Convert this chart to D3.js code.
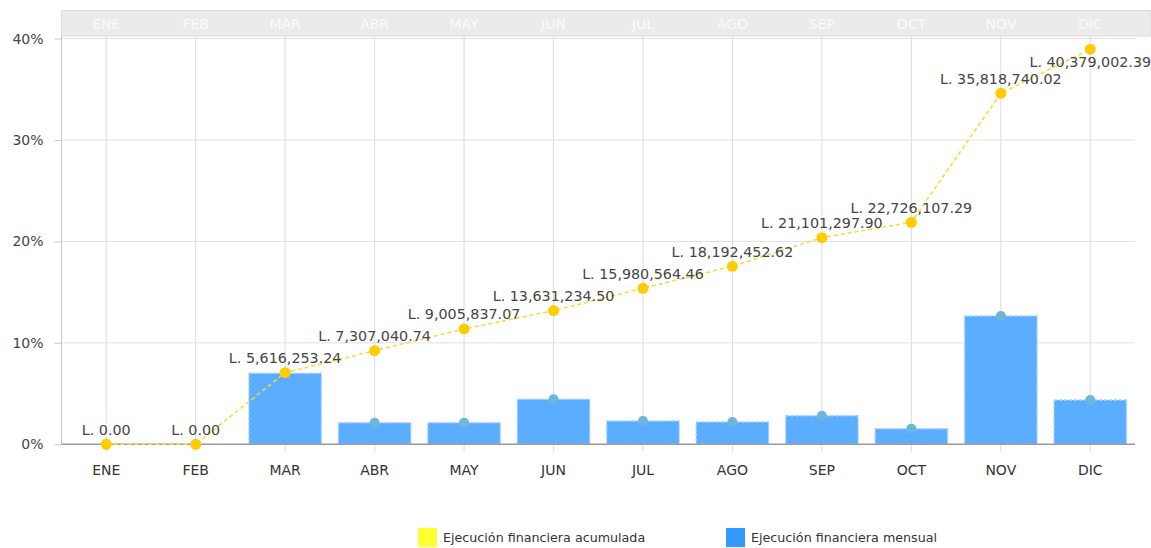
<!DOCTYPE html>
<html>
<head>
<meta charset="utf-8">
<script src="https://cdn.jsdelivr.net/npm/d3@7"></script>
<style>
  body { margin: 0; background: #fff; }
  text { font-family: "DejaVu Sans", Verdana, sans-serif; }
</style>
</head>
<body>
<div id="chart"></div>
<script>
// Month categories and the two series.
const months = ["ENE", "FEB", "MAR", "ABR", "MAY", "JUN", "JUL", "AGO", "SEP", "OCT", "NOV", "DIC"];
const acumulado = [0, 0, 7.06, 9.23, 11.37, 13.18, 15.38, 17.55, 20.37, 21.89, 34.6, 38.95];
const mensual = [0, 0, 7.0, 2.13, 2.13, 4.44, 2.30, 2.20, 2.82, 1.54, 12.65, 4.36];
const montos = ["L. 0.00", "L. 0.00", "L. 5,616,253.24", "L. 7,307,040.74", "L. 9,005,837.07",
    "L. 13,631,234.50", "L. 15,980,564.46", "L. 18,192,452.62", "L. 21,101,297.90",
    "L. 22,726,107.29", "L. 35,818,740.02", "L. 40,379,002.39"];
const yTicks = [0, 10, 20, 30, 40];
const legendItems = ["Ejecución financiera acumulada", "Ejecución financiera mensual"];

const W = 1151, H = 548;
const mLeft = 61.5, mRight = 1135, mTop = 36, mBottom = 444.3;

const svg = d3.select("#chart").append("svg")
    .attr("width", W).attr("height", H);

const x = d3.scaleBand().domain(months).range([mLeft, mRight]).paddingInner(0.19).paddingOuter(0.095);
const xc = d => x(d) + x.bandwidth() / 2;
const y = d3.scaleLinear().domain([0, 40.25]).range([mBottom, mTop]);

// top band with the light month labels
svg.append("rect")
    .attr("x", mLeft).attr("y", 10.5)
    .attr("width", W - mLeft).attr("height", mTop - 10.5)
    .attr("fill", "#ebebeb").attr("stroke", "#dcdcdc");
svg.append("g").selectAll("text")
    .data(months).join("text")
    .attr("x", xc).attr("y", 25)
    .attr("text-anchor", "middle").attr("dominant-baseline", "middle")
    .attr("font-size", 14).attr("fill", "#fafafa")
    .text(d => d);

// grid
svg.append("g").selectAll("line")
    .data(yTicks.filter(d => d > 0)).join("line")
    .attr("x1", mLeft).attr("x2", mRight)
    .attr("y1", d => y(d)).attr("y2", d => y(d))
    .attr("stroke", "#e0e0e0");
svg.append("g").selectAll("line")
    .data(months).join("line")
    .attr("x1", xc).attr("x2", xc)
    .attr("y1", mTop).attr("y2", mBottom + 7)
    .attr("stroke", "#dcdcdc");

// y axis
const yAxis = svg.append("g")
    .attr("transform", `translate(${mLeft},0)`)
    .call(d3.axisLeft(y).tickValues(yTicks).tickFormat(d => d + "%").tickSize(7).tickPadding(11));
yAxis.select(".domain").attr("stroke", "#c8c8c8").attr("d", `M0,${mTop}V${mBottom}`);
yAxis.selectAll(".tick line").attr("stroke", "#c8c8c8");
yAxis.selectAll(".tick text").attr("font-size", 14).attr("fill", "#444")
    .attr("font-family", "DejaVu Sans, Verdana, sans-serif");

// bars
svg.append("g").selectAll("rect")
    .data(mensual).join("rect")
    .attr("x", (d, i) => x(months[i]))
    .attr("y", d => y(d))
    .attr("width", x.bandwidth())
    .attr("height", d => mBottom - y(d))
    .attr("fill", "#4da6ff").attr("fill-opacity", 0.92)
    .attr("stroke", "#a6d3ff").attr("stroke-width", 1.4)
    .attr("stroke-dasharray", "3,2");

// x axis line
svg.append("line")
    .attr("x1", mLeft).attr("x2", mRight)
    .attr("y1", mBottom).attr("y2", mBottom)
    .attr("stroke", "#9a9a9a").attr("stroke-width", 1.5);

svg.append("g").selectAll("text")
    .data(months).join("text")
    .attr("x", xc).attr("y", 471)
    .attr("text-anchor", "middle").attr("dominant-baseline", "middle")
    .attr("font-size", 14).attr("fill", "#333")
    .text(d => d);

// bar top markers
svg.append("g").selectAll("circle")
    .data(mensual).join("circle")
    .attr("cx", (d, i) => xc(months[i]))
    .attr("cy", d => y(d))
    .attr("r", 5)
    .attr("fill", "#6bb6d9");

// cumulative line
const line = d3.line().x((d, i) => xc(months[i])).y(d => y(d));
svg.append("path")
    .attr("d", line(acumulado))
    .attr("fill", "none")
    .attr("stroke", "#ffd633").attr("stroke-width", 1.5)
    .attr("stroke-dasharray", "4,3");

svg.append("g").selectAll("circle")
    .data(acumulado).join("circle")
    .attr("cx", (d, i) => xc(months[i]))
    .attr("cy", d => y(d))
    .attr("r", 5.5)
    .attr("fill", "#ffcc00");

// amount labels, above the point unless it would hit the top band
svg.append("g").selectAll("text")
    .data(acumulado).join("text")
    .attr("x", (d, i) => xc(months[i]))
    .attr("y", d => (y(d) - 22 < mTop) ? y(d) + 14 : y(d) - 13.5)
    .attr("text-anchor", "middle").attr("dominant-baseline", "middle")
    .attr("font-size", 14.3).attr("fill", "#444")
    .text((d, i) => montos[i]);

// legend
const legendX = [418, 726];
const legendColors = ["#ffff33", "#3399ff"];
const lg = svg.append("g").selectAll("g")
    .data(legendItems).join("g")
    .attr("transform", (d, i) => `translate(${legendX[i]},528)`);
lg.append("rect")
    .attr("width", 19).attr("height", 19)
    .attr("fill", (d, i) => legendColors[i]);
lg.append("text")
    .attr("x", 25).attr("y", 10)
    .attr("dominant-baseline", "middle")
    .attr("font-size", 12.7).attr("fill", "#333")
    .text(d => d);
</script>
</body>
</html>
